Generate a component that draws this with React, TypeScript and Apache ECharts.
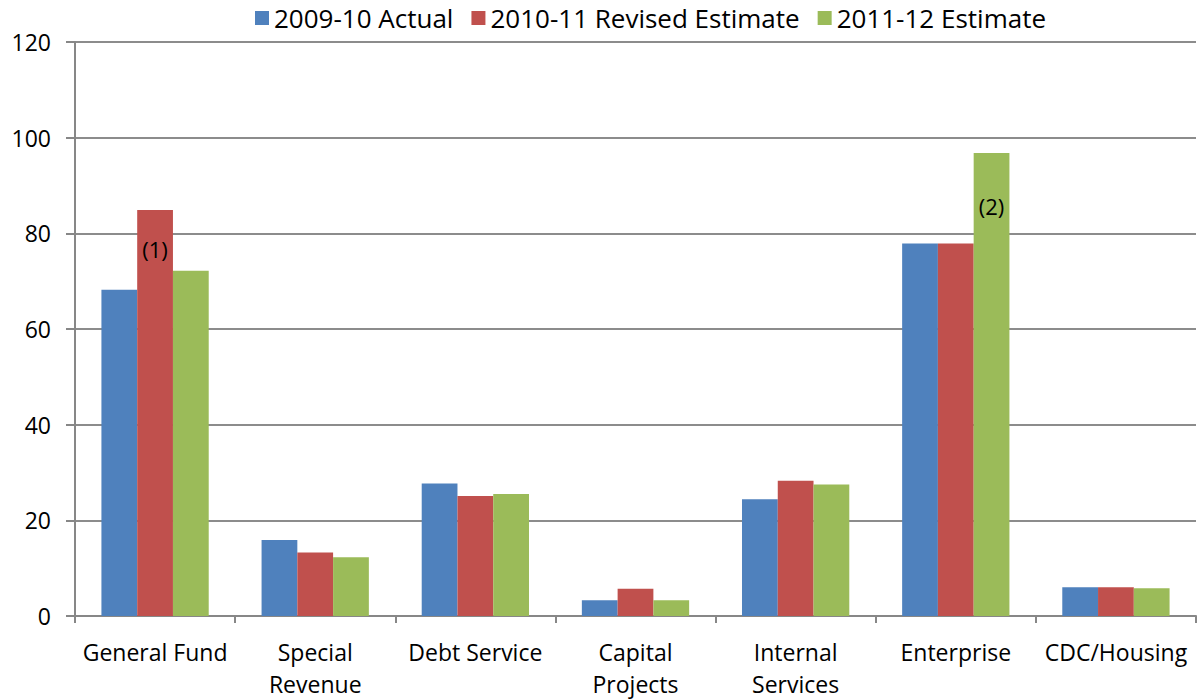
import React, { useEffect, useRef } from "react";
import * as echarts from "echarts";

const categories = ["General Fund", "Special\nRevenue", "Debt Service", "Capital\nProjects", "Internal\nServices", "Enterprise", "CDC/Housing"];
const seriesNames = ["2009-10 Actual", "2010-11 Revised Estimate", "2011-12 Estimate"];
const actual0910 = [68.2, 15.9, 27.7, 3.3, 24.4, 77.9, 6.0];
const revised1011 = [84.9, 13.3, 25.1, 5.7, 28.3, 77.9, 6.0];
const estimate1112 = [72.2, 12.3, 25.5, 3.3, 27.5, 96.8, 5.8];
const colors = ["#4F81BD", "#C0504D", "#9BBB59"];
const notes: Record<string, { index: number; text: string; dist: number }> = {
  r: { index: 0, text: "(1)", dist: 28 },
  g: { index: 5, text: "(2)", dist: 42 },
};

const FONT = "Open Sans";

function withNote(values: number[], note?: { index: number; text: string; dist: number }) {
  return values.map((v, i) =>
    note && note.index === i
      ? {
          value: v,
          label: {
            show: true,
            position: "insideTop",
            distance: note.dist,
            formatter: note.text,
            color: "#000",
            fontSize: 22,
            fontFamily: FONT,
          },
        }
      : v
  );
}

export default function App() {
  const ref = useRef<HTMLDivElement>(null);
  useEffect(() => {
    document.body.style.margin = "0";
    if (!ref.current) return;
    const chart = echarts.init(ref.current, null, { renderer: "svg" });
    const seriesData = [
      withNote(actual0910),
      withNote(revised1011, notes.r),
      withNote(estimate1112, notes.g),
    ];
    chart.setOption({
      animation: false,
      textStyle: { fontFamily: FONT },
      legend: {
        top: 0,
        left: 250,
        itemWidth: 14,
        itemHeight: 14,
        itemGap: 18,
        icon: "rect",
        textStyle: { fontSize: 26, color: "#000", fontFamily: FONT },
        data: seriesNames,
      },
      grid: { left: 75, right: 2, top: 42, bottom: 79, containLabel: false },
      xAxis: {
        type: "category",
        data: categories,
        axisLine: { lineStyle: { color: "#878787", width: 2 } },
        axisTick: { show: true, length: 7, lineStyle: { color: "#878787", width: 2 } },
        axisLabel: { color: "#000", fontSize: 23, fontFamily: FONT, margin: 20, lineHeight: 32, interval: 0 },
      },
      yAxis: {
        type: "value",
        min: 0,
        max: 120,
        interval: 20,
        axisLine: { show: true, lineStyle: { color: "#878787", width: 2 } },
        axisTick: { show: true, length: 9, lineStyle: { color: "#878787", width: 2 } },
        axisLabel: { color: "#000", fontSize: 23, fontFamily: FONT, margin: 24 },
        splitLine: { show: true, lineStyle: { color: "#8c8c8c", width: 2 } },
      },
      series: seriesNames.map((name, i) => ({
        name,
        type: "bar",
        data: seriesData[i],
        itemStyle: { color: colors[i] },
        barGap: "0%",
        barCategoryGap: "33%",
      })),
    });
    return () => chart.dispose();
  }, []);
  return <div ref={ref} style={{ width: 1198, height: 700 }} />;
}
